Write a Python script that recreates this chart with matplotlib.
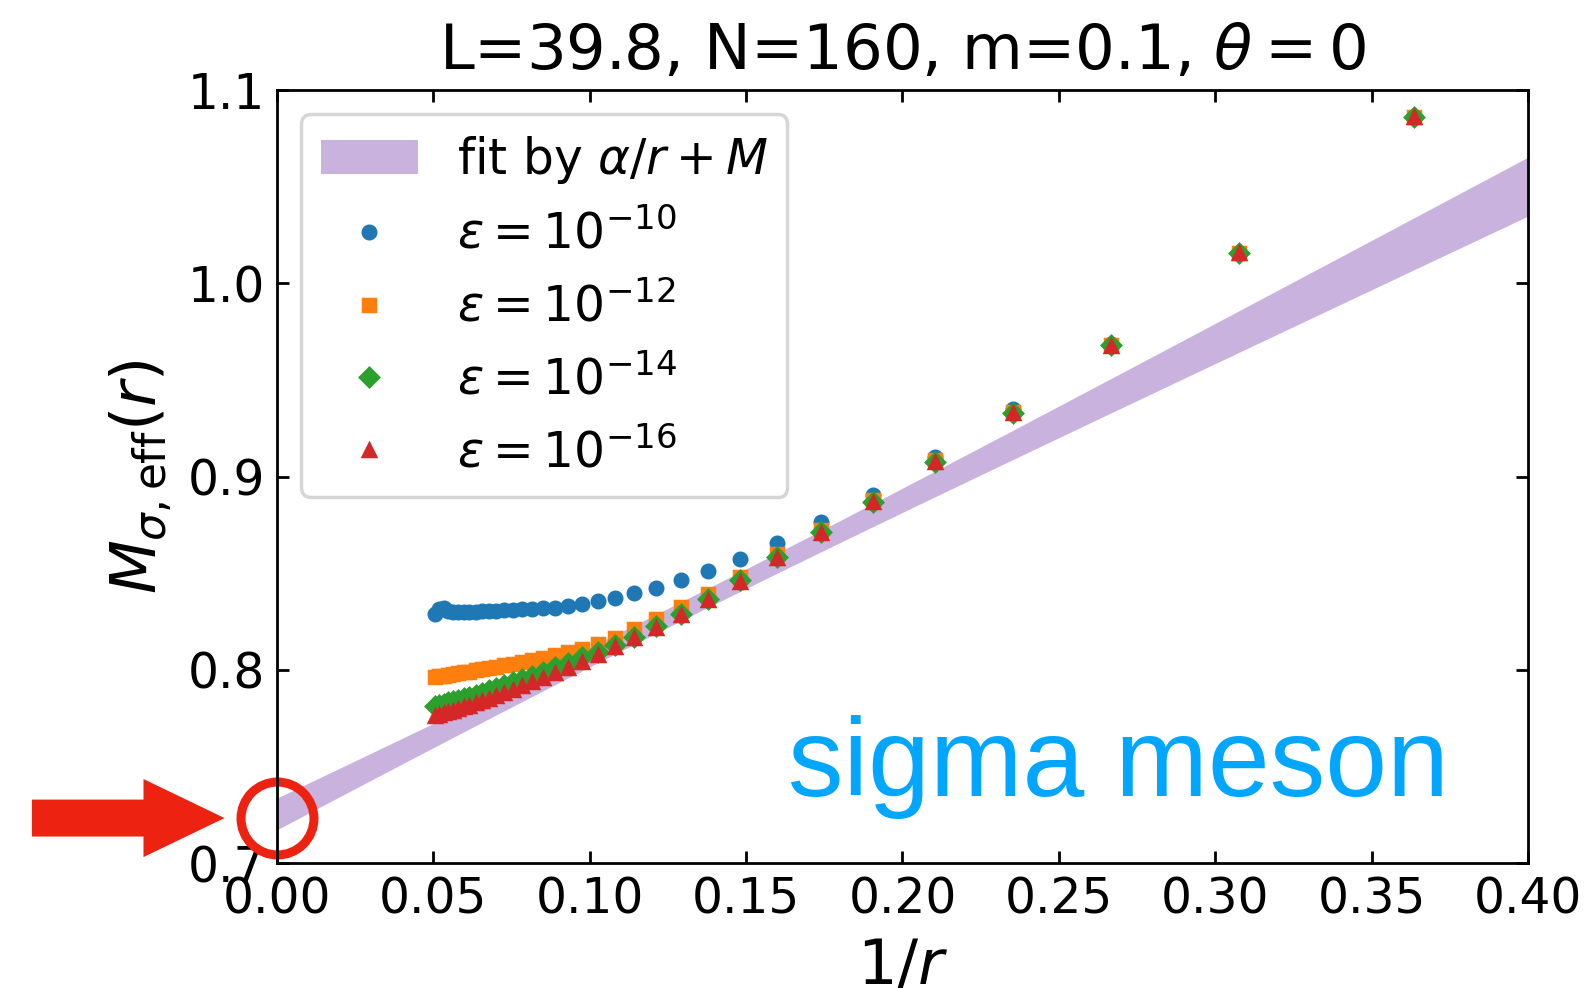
import numpy as np
import matplotlib
matplotlib.use("Agg")
import matplotlib.pyplot as plt
from matplotlib.patches import FancyArrow

# distances r (x axis is 1/r)
r_vals = [2.75, 3.25, 3.75, 4.25, 4.75, 5.25, 5.75, 6.25, 6.75, 7.25,
          7.75, 8.25, 8.75, 9.25, 9.75, 10.25, 10.75, 11.25, 11.75, 12.25,
          12.75, 13.25, 13.75, 14.25, 14.75, 15.25, 15.75, 16.25, 16.75, 17.25,
          17.75, 18.25, 18.75, 19.25, 19.75]

# effective mass for each cutoff eps
m_eps10 = [1.0860, 1.0158, 0.9685, 0.9350, 0.9100, 0.8904, 0.8765, 0.8656, 0.8573, 0.8510,
           0.8463, 0.8425, 0.8397, 0.8373, 0.8356, 0.8342, 0.8330, 0.8322, 0.8318, 0.8315,
           0.8312, 0.8309, 0.8307, 0.8305, 0.8303, 0.8302, 0.8301, 0.8300, 0.8299, 0.8298,
           0.8298, 0.8303, 0.8322, 0.8312, 0.8287]
m_eps12 = [1.0860, 1.0156, 0.9679, 0.9336, 0.9085, 0.8880, 0.8725, 0.8598, 0.8482, 0.8392,
           0.8323, 0.8263, 0.8209, 0.8166, 0.8133, 0.8107, 0.8090, 0.8076, 0.8063, 0.8051,
           0.8041, 0.8032, 0.8024, 0.8016, 0.8009, 0.8003, 0.7997, 0.7991, 0.7986, 0.7981,
           0.7977, 0.7973, 0.7969, 0.7966, 0.7963]
m_eps14 = [1.0860, 1.0156, 0.9678, 0.9331, 0.9077, 0.8870, 0.8712, 0.8582, 0.8462, 0.8366,
           0.8290, 0.8224, 0.8172, 0.8130, 0.8094, 0.8064, 0.8036, 0.8012, 0.7990, 0.7970,
           0.7952, 0.7935, 0.7920, 0.7906, 0.7893, 0.7882, 0.7871, 0.7861, 0.7852, 0.7844,
           0.7837, 0.7831, 0.7825, 0.7820, 0.7815]
m_eps16 = [1.0859, 1.0155, 0.9677, 0.9329, 0.9075, 0.8868, 0.8708, 0.8578, 0.8456, 0.8362,
           0.8285, 0.8218, 0.8162, 0.8117, 0.8077, 0.8042, 0.8010, 0.7983, 0.7958, 0.7936,
           0.7916, 0.7897, 0.7880, 0.7865, 0.7851, 0.7838, 0.7826, 0.7815, 0.7805, 0.7796,
           0.7788, 0.7781, 0.7774, 0.7768, 0.7762]

series_labels = [r"$\epsilon=10^{-10}$", r"$\epsilon=10^{-12}$",
                 r"$\epsilon=10^{-14}$", r"$\epsilon=10^{-16}$"]

# fit alpha/r + M with its error band
fit_M, fit_alpha = 0.7254, 0.8115
err_M, err_alpha, cov_M_alpha = 0.0082, 0.0525, -3.45e-4

fig = plt.figure(figsize=(1589 / 250, 988 / 250), dpi=250)
ax = fig.add_axes([0.1743, 0.1265, 0.9616 - 0.1743, 0.9089 - 0.1265])

x = 1.0 / np.array(r_vals)

xf = np.linspace(0, 0.4, 200)
yf = fit_alpha * xf + fit_M
dy = np.sqrt(err_M**2 + 2 * cov_M_alpha * xf + err_alpha**2 * xf**2)
ax.fill_between(xf, yf - dy, yf + dy, color="C4", alpha=0.5, lw=0,
                label=r"fit by $\alpha/r+M$")

for ys, mk, c, lab in zip([m_eps10, m_eps12, m_eps14, m_eps16],
                          ["o", "s", "D", "^"], ["C0", "C1", "C2", "C3"], series_labels):
    ax.plot(x, ys, ls="", marker=mk, color=c, ms=3.6, label=lab)

ax.set_xlim(0, 0.4)
ax.set_ylim(0.7, 1.1)
ax.set_xticks(np.arange(0, 0.401, 0.05))
ax.set_yticks([0.7, 0.8, 0.9, 1.0, 1.1])
ax.tick_params(direction="in", top=True, right=True, labelsize=14)
ax.set_xlabel(r"$1/r$", fontsize=18)
ax.set_ylabel(r"$M_{\sigma,\mathrm{eff}}(r)$", fontsize=18)
ax.set_title(r"L=39.8, N=160, m=0.1, $\theta=0$", fontsize=18)
ax.legend(loc="upper left", fontsize=14)

# highlight of the extrapolated value
ax.plot([0], [0.7233], marker="o", ms=21, mfc="none", mec="#EE2211", mew=2.6, clip_on=False)
fig.patches.append(FancyArrow(0.0201, 0.172, 0.1212, 0, width=0.0374, head_width=0.079,
                              head_length=0.051, length_includes_head=True,
                              color="#EE2211", lw=0, transform=fig.transFigure, figure=fig))
fig.text(788 / 1589, 1 - 796 / 988, "sigma meson", color="#00A6FF", fontsize=32,
         family="Liberation Sans", va="baseline")

plt.savefig("out.png", dpi=250)
